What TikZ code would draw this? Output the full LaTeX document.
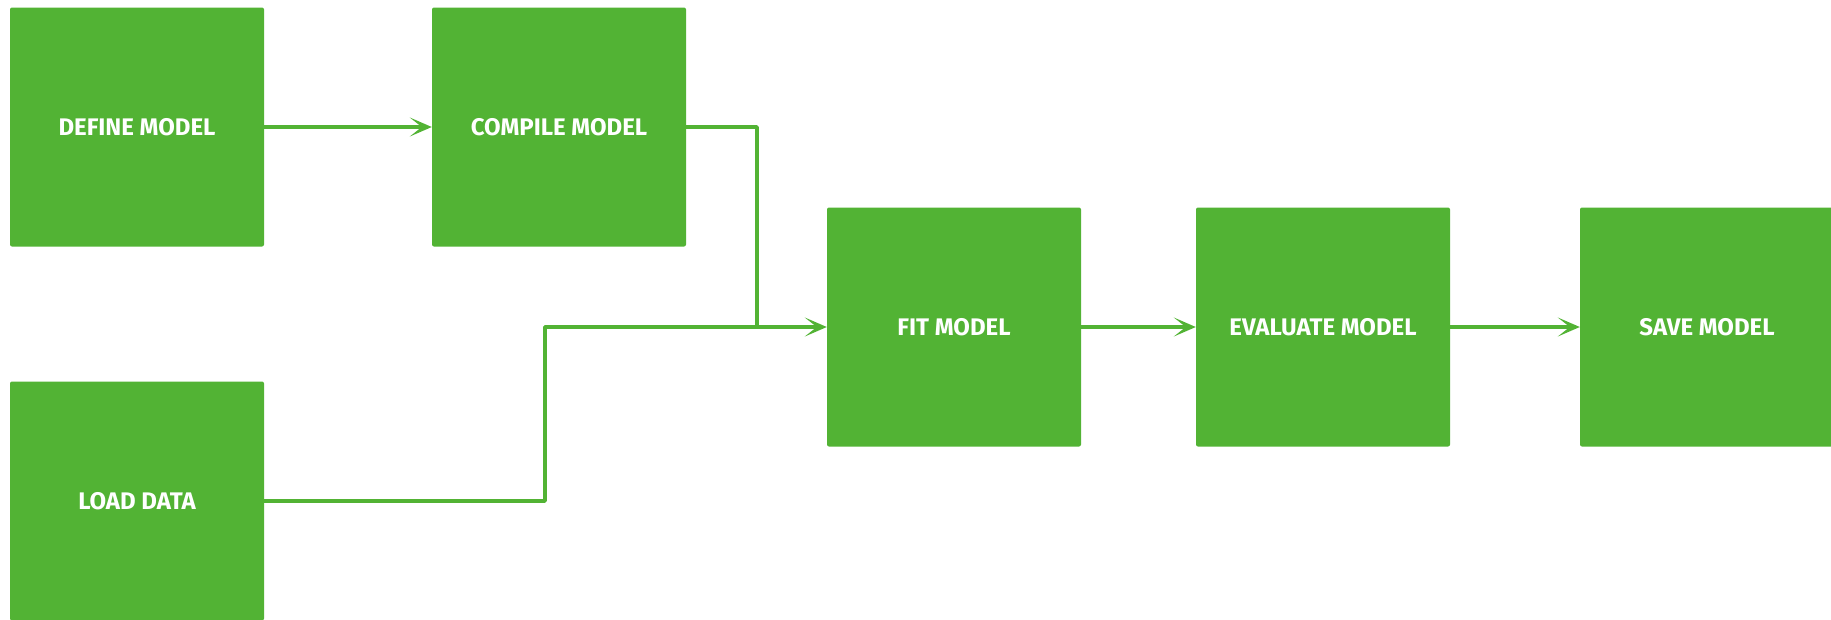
\documentclass[tikz,border=0pt]{standalone}
\usepackage{fontspec}
\setmainfont{Fira Sans}
\usetikzlibrary{arrows.meta}
\definecolor{kgreen}{RGB}{82,179,52}
\begin{document}
\begin{tikzpicture}[x=1pt,y=-1pt,
  stepbox/.style={fill=kgreen,draw=none,rounded corners=2pt,minimum width=254pt,minimum height=239pt,inner sep=0pt,
    text=white,font=\fontsize{24}{26}\selectfont\bfseries},
  conn/.style={draw=kgreen,line width=3.5pt,line join=round},
  arr/.style={conn,-{Stealth[length=22pt,width=19pt,inset=12pt]}}]
\useasboundingbox (0,0) rectangle (1831,619);
\begin{scope}
\clip (0,0) rectangle (1831,619);
\node[stepbox] (define) at (137,127) {DEFINE MODEL};
\node[stepbox] (compile) at (559,127) {COMPILE MODEL};
\node[stepbox] (load) at (137,501) {LOAD DATA};
\node[stepbox] (fit) at (954,327) {FIT MODEL};
\node[stepbox] (eval) at (1323,327) {EVALUATE MODEL};
\node[stepbox] (save) at (1707,327) {SAVE MODEL};
\end{scope}
\coordinate (j1) at (757,327);
\coordinate (j2) at (545,501);
\draw[arr] (define.east) -- (compile.west);
\draw[conn] (compile.east) -| (j1);
\draw[arr] (load.east) -- (j2) |- (fit.west);
\draw[arr] (fit.east) -- (eval.west);
\draw[arr] (eval.east) -- (save.west);
\end{tikzpicture}
\end{document}
